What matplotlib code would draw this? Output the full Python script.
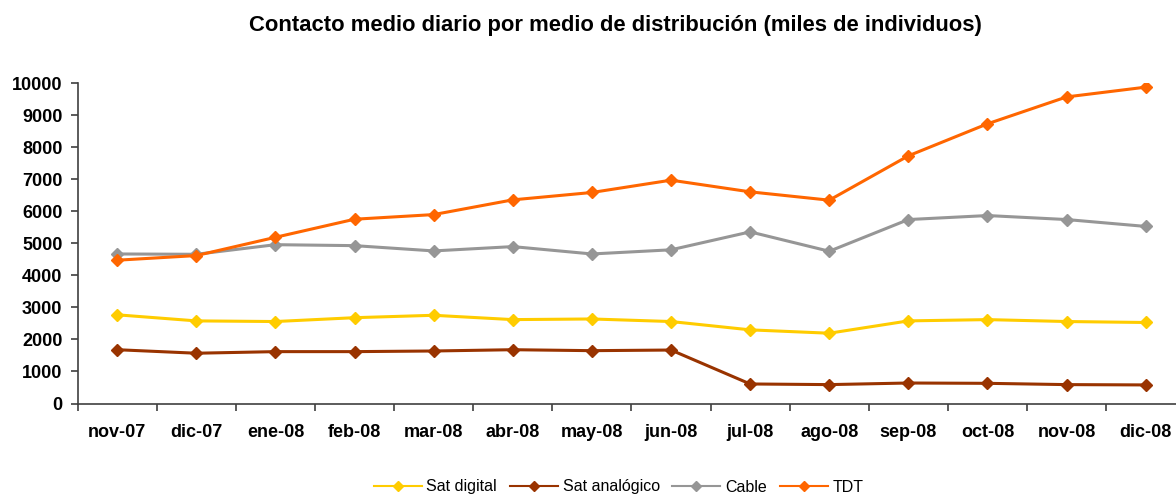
import matplotlib
matplotlib.use("Agg")
import matplotlib.pyplot as plt
import numpy as np
from matplotlib.ticker import FixedLocator

plt.rcParams['font.family'] = ['Liberation Sans', 'DejaVu Sans']

months = ["nov-07", "dic-07", "ene-08", "feb-08", "mar-08", "abr-08", "may-08",
          "jun-08", "jul-08", "ago-08", "sep-08", "oct-08", "nov-08", "dic-08"]
sat_digital = [2770, 2580, 2560, 2680, 2755, 2620, 2640, 2560, 2300, 2195, 2580, 2620, 2560, 2530]
sat_analogico = [1680, 1570, 1620, 1620, 1640, 1680, 1650, 1670, 610, 590, 640, 630, 590, 580]
cable = [4670, 4660, 4960, 4930, 4765, 4900, 4670, 4800, 5360, 4755, 5745, 5870, 5745, 5530]
tdt = [4475, 4620, 5190, 5755, 5900, 6360, 6590, 6975, 6610, 6350, 7735, 8735, 9575, 9880]

series = [("Sat digital", sat_digital, "#FFCC00"),
          ("Sat analógico", sat_analogico, "#993300"),
          ("Cable", cable, "#969696"),
          ("TDT", tdt, "#FF6600")]

fig = plt.figure(figsize=(11.76, 4.95), dpi=100)
ax = fig.add_axes([77.6 / 1176, 91.5 / 495, 1107.7 / 1176, 320.2 / 495])

x = np.arange(len(months))
for name, vals, col in series:
    ax.plot(x, vals, color=col, lw=2.2, marker='D', ms=6.5, mec=col, mfc=col, label=name)

ax.set_xlim(-0.5, len(months) - 0.5)
ax.set_ylim(0, 10000)
ax.set_yticks(np.arange(0, 10001, 1000))
ax.set_xticks(x)
ax.set_xticklabels(months)
ax.xaxis.set_minor_locator(FixedLocator(np.arange(-0.5, len(months), 1)))
ax.tick_params(axis='x', which='major', length=0, pad=15, labelsize=13)
ax.tick_params(axis='x', which='minor', length=5, width=1.2, color='#404040', direction='out')
ax.tick_params(axis='y', which='major', length=5, width=1.2, color='#404040', direction='out', labelsize=13, pad=6)
for lab in ax.get_xticklabels() + ax.get_yticklabels():
    lab.set_fontweight('bold')

for s in ['top', 'right']:
    ax.spines[s].set_visible(False)
for s in ['left', 'bottom']:
    ax.spines[s].set_color('#404040')
    ax.spines[s].set_linewidth(1.2)

fig.text(0.523, 1 - 26 / 495, "Contacto medio diario por medio de distribución (miles de individuos)",
         ha='center', va='center', fontsize=15.8, fontweight='bold')

handles, labels = ax.get_legend_handles_labels()
leg = fig.legend(handles, labels, loc='center', bbox_to_anchor=(0.526, 1 - 487 / 495), ncol=4,
                 frameon=False, fontsize=11.5, handlelength=3.0, columnspacing=0.8,
                 handletextpad=0.3, markerscale=0.75)
for lh in leg.get_lines():
    lh.set_linewidth(1.5)

fig.savefig("out.png", dpi=100)
